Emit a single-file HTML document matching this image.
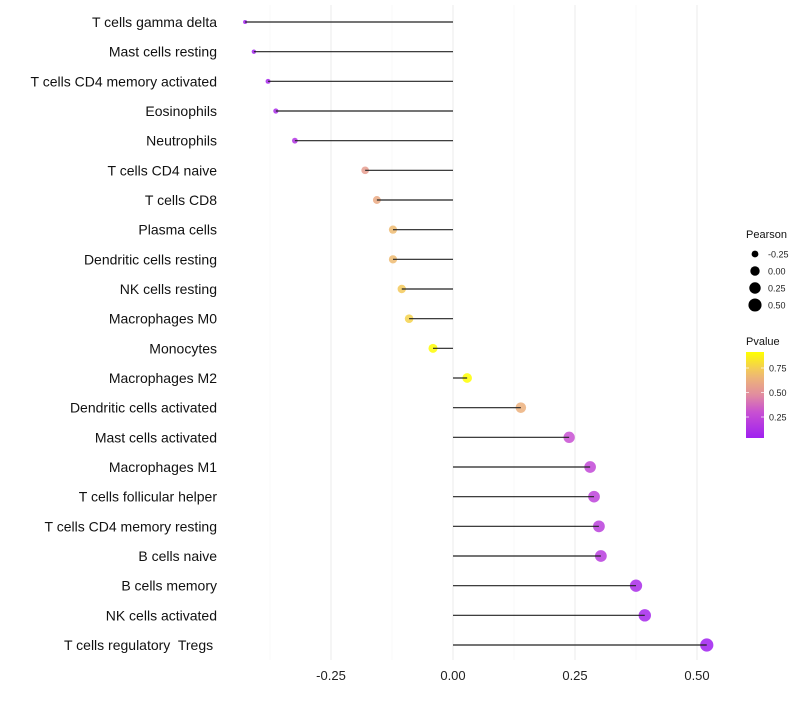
<!DOCTYPE html>
<html><head><meta charset="utf-8"><style>
body{margin:0;background:#fff}
svg{font-family:"Liberation Sans",sans-serif}
text{white-space:pre}
</style></head><body>
<svg id="c" width="800" height="700"></svg>
<script>
const categories=["T cells gamma delta","Mast cells resting","T cells CD4 memory activated","Eosinophils","Neutrophils","T cells CD4 naive","T cells CD8","Plasma cells","Dendritic cells resting","NK cells resting","Macrophages M0","Monocytes","Macrophages M2","Dendritic cells activated","Mast cells activated","Macrophages M1","T cells follicular helper","T cells CD4 memory resting","B cells naive","B cells memory","NK cells activated","T cells regulatory  Tregs "];
const pearson=[-0.426,-0.408,-0.379,-0.363,-0.324,-0.180,-0.156,-0.123,-0.123,-0.105,-0.090,-0.041,0.029,0.139,0.238,0.281,0.289,0.299,0.303,0.375,0.393,0.520];
const pvalue=[0.05,0.06,0.08,0.10,0.15,0.55,0.60,0.68,0.68,0.73,0.76,0.90,0.92,0.63,0.30,0.26,0.23,0.21,0.20,0.10,0.08,0.03];
const xTicks=[-0.25,0,0.25,0.5];
const xTickLabels=["-0.25","0.00","0.25","0.50"];
const sizeLegend=[-0.25,0,0.25,0.5];
const sizeLegendLabels=["-0.25","0.00","0.25","0.50"];
const pTicks=[0.25,0.5,0.75];
const pTickLabels=["0.25","0.50","0.75"];

const svg=document.getElementById('c');
const NS="http://www.w3.org/2000/svg";
const x=v=>453+v*488;
const y=i=>22+i*(645-22)/(categories.length-1);
const r=v=>Math.sqrt(Math.max(3,4+42*(v+0.43)));
const pY=p=>392.5-(p-0.5)*98;
const stops=[[0,[160,32,240]],[0.3,[200,80,210]],[0.5,[225,140,160]],[0.75,[240,190,110]],[1,[255,255,0]]];
function col(p){p=Math.max(0,Math.min(1,(p-0.04)/0.87));for(let k=1;k<stops.length;k++){if(p<=stops[k][0]){const a=stops[k-1],b=stops[k],t=(p-a[0])/(b[0]-a[0]);return 'rgb('+a[1].map((c,j)=>Math.round(c+(b[1][j]-c)*t)).join(',')+')';}}return 'rgb(255,255,0)';}
function el(t,a,txt){const e=document.createElementNS(NS,t);for(const k in a)e.setAttribute(k,a[k]);if(txt!==undefined)e.textContent=txt;svg.appendChild(e);return e;}

for(let v=-0.375;v<=0.6;v+=0.125){
  const major=xTicks.some(t=>Math.abs(t-v)<1e-9);
  const g=el('line',{x1:x(v),x2:x(v),y1:5,y2:660,stroke:major?'#ebebeb':'#f4f4f4','stroke-width':major?1:0.6});
  
  
}
xTicks.forEach((t,i)=>{
  const e=el('text',{x:x(t),y:680,'text-anchor':'middle','font-size':13,fill:'#222'},xTickLabels[i]);
  
  
});
categories.forEach((c,i)=>{
  const lb=el('text',{x:217,y:y(i)+5,'text-anchor':'end','font-size':14,fill:'#111'},c);
  
  
  const d=el('circle',{cx:x(pearson[i]),cy:y(i),r:r(pearson[i]),fill:col(pvalue[i]),'fill-opacity':0.85});
  
  
  const s=el('line',{x1:x(0),x2:x(pearson[i]),y1:y(i),y2:y(i),stroke:'#222','stroke-width':1.2});
  
  
});
let t=el('text',{x:746,y:238,'font-size':11,fill:'#111'},'Pearson');


sizeLegend.forEach((v,i)=>{
  const cy=254+i*17;
  const c=el('circle',{cx:755,cy:cy,r:r(v),fill:'#000'});
  
  
  const l=el('text',{x:768,y:cy+3.5,'font-size':9,fill:'#222'},sizeLegendLabels[i]);
  
  
});
t=el('text',{x:746,y:345,'font-size':11,fill:'#111'},'Pvalue');


const defs=el('defs',{});
const lg=document.createElementNS(NS,'linearGradient');
lg.setAttribute('id','g');lg.setAttribute('x1',0);lg.setAttribute('y1',1);lg.setAttribute('x2',0);lg.setAttribute('y2',0);
for(let k=0;k<=10;k++){const p=0.04+k*0.087;const s=document.createElementNS(NS,'stop');s.setAttribute('offset',k/10);s.setAttribute('stop-color',col(p));lg.appendChild(s);}
defs.appendChild(lg);
const bar=el('rect',{x:746,y:352,width:18,height:86,fill:'url(#g)'});


pTicks.forEach((p,i)=>{
  el('line',{x1:746,x2:749,y1:pY(p),y2:pY(p),stroke:'#fff','stroke-opacity':0.7});
  el('line',{x1:761,x2:764,y1:pY(p),y2:pY(p),stroke:'#fff','stroke-opacity':0.7});
  const l=el('text',{x:769,y:pY(p)+3.5,'font-size':9,fill:'#222'},pTickLabels[i]);
  
  
});
</script>
</body></html>
